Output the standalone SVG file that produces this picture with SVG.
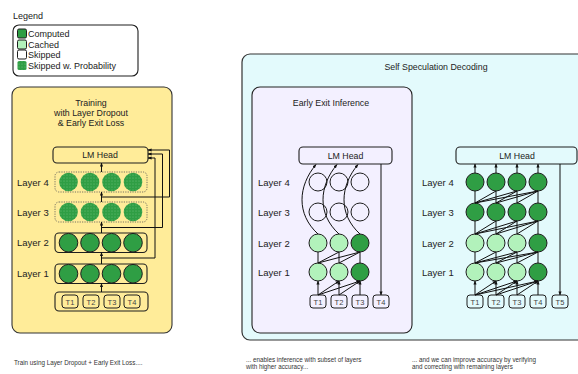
<svg xmlns="http://www.w3.org/2000/svg" width="578" height="374" viewBox="0 0 578 374">
  <style>
    text { font-family: "Liberation Sans", Arial, sans-serif; fill: #222; }
    .lbl { font-size: 9.5px; }
    .ttl { font-size: 8.8px; text-anchor: middle; }
    .tok { font-size: 7.5px; text-anchor: middle; fill: #444; }
    .cap { font-size: 6.3px; fill: #333; }
    .box { fill: none; stroke: #1e1e1e; stroke-width: 1.1; }
    .dotbox { fill: none; stroke: #555; stroke-width: 0.8; stroke-dasharray: 1.2 1.2; }
    .tk { fill: none; stroke: #1e1e1e; stroke-width: 1; }
    .comp { fill: #2f9e44; stroke: #1e1e1e; stroke-width: 1; }
    .cach { fill: #b2f2bb; stroke: #1e1e1e; stroke-width: 1; }
    .skip { fill: none; stroke: #1e1e1e; stroke-width: 1; }
    .prob { fill: url(#stipple); stroke: none; }
    .ln { fill: none; stroke: #111; stroke-width: 1; }
    .ar { fill: none; stroke: #111; stroke-width: 1; marker-end: url(#ah); }
  </style>
  <defs>
    <marker id="ah" viewBox="0 0 10 10" refX="9" refY="5" markerWidth="4" markerHeight="4" orient="auto">
      <path d="M0,1 L10,5 L0,9 z" fill="#111"/>
    </marker>
    <pattern id="stipple" width="3" height="3" patternUnits="userSpaceOnUse">
      <rect width="3" height="3" fill="#2f9e44"/>
      <circle cx="1" cy="1" r="0.4" fill="#a9e4b4"/>
    </pattern>
  </defs>

  <!-- Legend -->
  <g id="legend">
    <text x="13" y="19" style="font-size:9px">Legend</text>
    <rect x="13" y="25" width="125" height="51" rx="6" class="box" stroke-width="1.2"/>
    <rect x="17.5" y="29" width="9" height="9" rx="1.5" class="comp"/>
    <text x="28" y="36.5" style="font-size:9px">Computed</text>
    <rect x="17.5" y="40" width="9" height="9" rx="1.5" class="cach"/>
    <text x="28" y="47.5" style="font-size:9px">Cached</text>
    <rect x="17.5" y="50" width="9" height="9" rx="1.5" fill="#fff" stroke="#1e1e1e" stroke-width="1"/>
    <text x="28" y="57.5" style="font-size:9px">Skipped</text>
    <rect x="17.5" y="61" width="9" height="9" rx="1.5" class="prob"/>
    <text x="28" y="68.5" style="font-size:9px">Skipped w. Probability</text>
  </g>

  <!-- Training panel -->
  <g id="training">
    <rect x="12" y="87" width="160" height="246" rx="8" fill="#ffec99" stroke="#333" stroke-width="1.1"/>
    <text x="91" y="106" class="ttl">Training</text>
    <text x="91" y="116" class="ttl">with Layer Dropout</text>
    <text x="91" y="126" class="ttl">&amp; Early Exit Loss</text>
  </g>
  <g id="train-lmhead">
    <rect x="53" y="147" width="95" height="16" rx="4" class="box"/>
    <text x="100" y="158" class="ttl">LM Head</text>
  </g>
  <g id="train-layer4">
    <text x="17" y="185.5" class="lbl">Layer 4</text>
    <rect x="55" y="172" width="92" height="20" rx="4" class="dotbox"/>
    <circle cx="68.5" cy="182" r="9.3" class="prob"/>
    <circle cx="90" cy="182" r="9.3" class="prob"/>
    <circle cx="111.5" cy="182" r="9.3" class="prob"/>
    <circle cx="133" cy="182" r="9.3" class="prob"/>
  </g>
  <g id="train-layer3">
    <text x="17" y="215.5" class="lbl">Layer 3</text>
    <rect x="55" y="202" width="92" height="20" rx="4" class="dotbox"/>
    <circle cx="68.5" cy="212" r="9.3" class="prob"/>
    <circle cx="90" cy="212" r="9.3" class="prob"/>
    <circle cx="111.5" cy="212" r="9.3" class="prob"/>
    <circle cx="133" cy="212" r="9.3" class="prob"/>
  </g>
  <g id="train-layer2">
    <text x="17" y="246" class="lbl">Layer 2</text>
    <rect x="55" y="233" width="92" height="19.5" rx="4" class="box"/>
    <circle cx="68.5" cy="242.7" r="9.3" class="comp"/>
    <circle cx="90" cy="242.7" r="9.3" class="comp"/>
    <circle cx="111.5" cy="242.7" r="9.3" class="comp"/>
    <circle cx="133" cy="242.7" r="9.3" class="comp"/>
  </g>
  <g id="train-layer1">
    <text x="17" y="277" class="lbl">Layer 1</text>
    <rect x="55" y="264" width="92" height="19.5" rx="4" class="box"/>
    <circle cx="68.5" cy="273.7" r="9.3" class="comp"/>
    <circle cx="90" cy="273.7" r="9.3" class="comp"/>
    <circle cx="111.5" cy="273.7" r="9.3" class="comp"/>
    <circle cx="133" cy="273.7" r="9.3" class="comp"/>
  </g>
  <g id="train-tokens">
    <rect x="55" y="292" width="93" height="19" rx="4" class="box"/>
    <rect x="62" y="295" width="16" height="13" rx="3" class="tk"/>
    <text x="70" y="304.5" class="tok">T1</text>
    <rect x="83" y="295" width="16" height="13" rx="3" class="tk"/>
    <text x="91" y="304.5" class="tok">T2</text>
    <rect x="104" y="295" width="16" height="13" rx="3" class="tk"/>
    <text x="112" y="304.5" class="tok">T3</text>
    <rect x="124" y="295" width="16" height="13" rx="3" class="tk"/>
    <text x="132" y="304.5" class="tok">T4</text>
  </g>
  <g id="train-edges">
    <path class="ar" d="M101.5,292 V283.5"/>
    <path class="ar" d="M101.5,264 V252.5"/>
    <path class="ar" d="M101.5,233 V222"/>
    <path class="ar" d="M101.5,202 V192"/>
    <path class="ar" d="M101.5,172 V163"/>
    <path class="ar" d="M101.5,258 H155 V158 H148"/>
    <path class="ar" d="M101.5,227.5 H162.5 V154 H148"/>
    <path class="ar" d="M101.5,197 H169.5 V150 H148"/>
  </g>

  <!-- Self speculation panel -->
  <g id="self-spec">
    <rect x="242" y="54" width="350" height="286" rx="8" fill="#e3fafc" stroke="#333" stroke-width="1.2"/>
    <text x="436" y="70" class="ttl">Self Speculation Decoding</text>
  </g>
  <g id="early-exit">
    <rect x="252" y="87" width="160" height="246" rx="8" fill="#f3f0ff" stroke="#222" stroke-width="1.1"/>
    <text x="331" y="106" class="ttl">Early Exit Inference</text>
  </g>

  <!-- Early exit inference nodes -->
  <g id="ee-lmhead">
    <rect x="299" y="147" width="93" height="17" rx="4" class="box"/>
    <text x="345.5" y="158.5" class="ttl">LM Head</text>
  </g>
  <g id="ee-layer4">
    <text x="258" y="185.5" class="lbl">Layer 4</text>
    <circle cx="318" cy="182" r="9" class="skip"/>
    <circle cx="339" cy="182" r="9" class="skip"/>
    <circle cx="360" cy="182" r="9" class="skip"/>
  </g>
  <g id="ee-layer3">
    <text x="258" y="215.5" class="lbl">Layer 3</text>
    <circle cx="318" cy="212" r="9" class="skip"/>
    <circle cx="339" cy="212" r="9" class="skip"/>
    <circle cx="360" cy="212" r="9" class="skip"/>
  </g>
  <g id="ee-layer2">
    <text x="258" y="246.5" class="lbl">Layer 2</text>
    <circle cx="318" cy="243" r="9" class="cach"/>
    <circle cx="339" cy="243" r="9" class="cach"/>
    <circle cx="360" cy="243" r="9" class="comp"/>
  </g>
  <g id="ee-layer1">
    <text x="258" y="275.5" class="lbl">Layer 1</text>
    <circle cx="318" cy="272" r="9" class="cach"/>
    <circle cx="339" cy="272" r="9" class="cach"/>
    <circle cx="360" cy="272" r="9" class="comp"/>
  </g>
  <g id="ee-tokens">
    <rect x="310" y="295" width="16" height="13" rx="3" class="tk"/>
    <text x="318" y="304.5" class="tok">T1</text>
    <rect x="331" y="295" width="16" height="13" rx="3" class="tk"/>
    <text x="339" y="304.5" class="tok">T2</text>
    <rect x="352" y="295" width="16" height="13" rx="3" class="tk"/>
    <text x="360" y="304.5" class="tok">T3</text>
    <rect x="373" y="295" width="16" height="13" rx="3" class="tk"/>
    <text x="381" y="304.5" class="tok">T4</text>
  </g>
  <g id="ee-edges">
    <path class="ar" d="M318,295 V281"/>
    <path class="ar" d="M318,295 L339,281"/>
    <path class="ar" d="M318,295 L360,281"/>
    <path class="ar" d="M339,295 V281"/>
    <path class="ar" d="M339,295 L360,281"/>
    <path class="ar" d="M360,295 V281"/>
    <path class="ln" d="M318,263 V252 M318,263 L339,252 M318,263 L360,252 M339,263 V252 M339,263 L360,252 M360,263 V252"/>
    <path class="ar" d="M318,234 C296,214 298,186 316,164.5"/>
    <path class="ar" d="M339,234 C317,214 319,186 337,164.5"/>
    <path class="ar" d="M360,234 C338,214 340,186 358,164.5"/>
    <path class="ar" d="M381,164 V295"/>
  </g>

  <!-- Verification nodes -->
  <g id="v-lmhead">
    <rect x="456" y="147" width="121" height="17" rx="4" class="box"/>
    <text x="517" y="158.5" class="ttl">LM Head</text>
  </g>
  <g id="v-layer4">
    <text x="422" y="185.5" class="lbl">Layer 4</text>
    <circle cx="475" cy="182" r="9" class="comp"/>
    <circle cx="496" cy="182" r="9" class="comp"/>
    <circle cx="517" cy="182" r="9" class="comp"/>
    <circle cx="538" cy="182" r="9" class="comp"/>
  </g>
  <g id="v-layer3">
    <text x="422" y="215.5" class="lbl">Layer 3</text>
    <circle cx="475" cy="212" r="9" class="comp"/>
    <circle cx="496" cy="212" r="9" class="comp"/>
    <circle cx="517" cy="212" r="9" class="comp"/>
    <circle cx="538" cy="212" r="9" class="comp"/>
  </g>
  <g id="v-layer2">
    <text x="422" y="246.5" class="lbl">Layer 2</text>
    <circle cx="475" cy="243" r="9" class="cach"/>
    <circle cx="496" cy="243" r="9" class="cach"/>
    <circle cx="517" cy="243" r="9" class="cach"/>
    <circle cx="538" cy="243" r="9" class="comp"/>
  </g>
  <g id="v-layer1">
    <text x="422" y="275.5" class="lbl">Layer 1</text>
    <circle cx="475" cy="272" r="9" class="cach"/>
    <circle cx="496" cy="272" r="9" class="cach"/>
    <circle cx="517" cy="272" r="9" class="cach"/>
    <circle cx="538" cy="272" r="9" class="comp"/>
  </g>
  <g id="v-tokens">
    <rect x="467" y="295" width="16" height="13" rx="3" class="tk"/>
    <text x="475" y="304.5" class="tok">T1</text>
    <rect x="488" y="295" width="16" height="13" rx="3" class="tk"/>
    <text x="496" y="304.5" class="tok">T2</text>
    <rect x="509" y="295" width="16" height="13" rx="3" class="tk"/>
    <text x="517" y="304.5" class="tok">T3</text>
    <rect x="530" y="295" width="16" height="13" rx="3" class="tk"/>
    <text x="538" y="304.5" class="tok">T4</text>
    <rect x="552" y="295" width="16" height="13" rx="3" class="tk"/>
    <text x="560" y="304.5" class="tok">T5</text>
  </g>
  <g id="v-edges">
    <path class="ar" d="M475,295 V281"/>
    <path class="ar" d="M475,295 L496,281"/>
    <path class="ar" d="M475,295 L517,281"/>
    <path class="ar" d="M475,295 L538,281"/>
    <path class="ar" d="M496,295 V281"/>
    <path class="ar" d="M496,295 L517,281"/>
    <path class="ar" d="M496,295 L538,281"/>
    <path class="ar" d="M517,295 V281"/>
    <path class="ar" d="M517,295 L538,281"/>
    <path class="ar" d="M538,295 V281"/>
    <path class="ln" d="M475,263 V252 M475,263 L496,252 M475,263 L517,252 M475,263 L538,252 M496,263 V252 M496,263 L517,252 M496,263 L538,252 M517,263 V252 M517,263 L538,252 M538,263 V252"/>
    <path class="ln" d="M475,234 V221 M475,234 L496,221 M475,234 L517,221 M475,234 L538,221 M496,234 V221 M496,234 L517,221 M496,234 L538,221 M517,234 V221 M517,234 L538,221 M538,234 V221"/>
    <path class="ln" d="M475,203 V191 M475,203 L496,191 M475,203 L517,191 M475,203 L538,191 M496,203 V191 M496,203 L517,191 M496,203 L538,191 M517,203 V191 M517,203 L538,191 M538,203 V191"/>
    <path class="ar" d="M475,173 V164"/>
    <path class="ar" d="M496,173 V164"/>
    <path class="ar" d="M517,173 V164"/>
    <path class="ar" d="M538,173 V164"/>
    <path class="ar" d="M560,164 V295"/>
  </g>

  <!-- Captions -->
  <g id="captions">
    <text x="14" y="365" class="cap">Train using Layer Dropout + Early Exit Loss....</text>
    <text x="246" y="362" class="cap">... enables inference with subset of layers</text>
    <text x="246" y="368.5" class="cap">with higher accuracy...</text>
    <text x="412" y="362" class="cap">... and we can improve accuracy by verifying</text>
    <text x="412" y="368.5" class="cap">and correcting with remaining layers</text>
  </g>
</svg>
